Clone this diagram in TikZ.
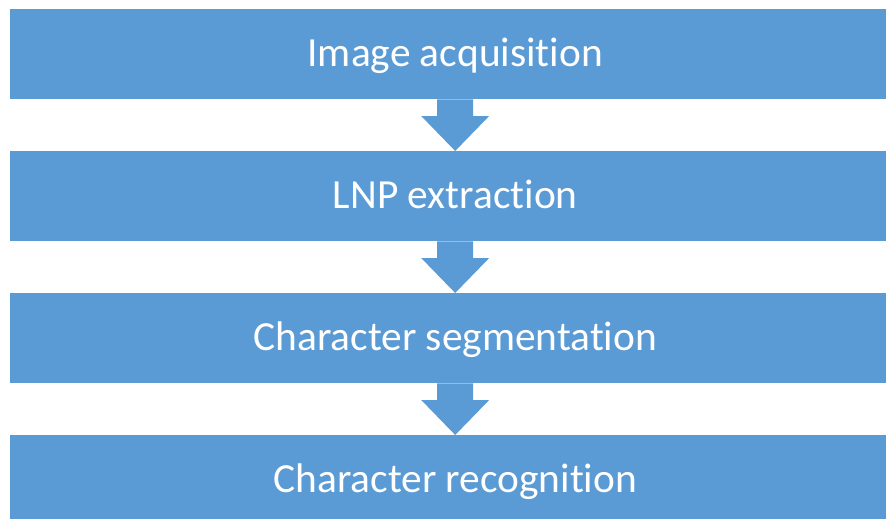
\documentclass[tikz,border=0pt]{standalone}
\usepackage{fontspec}
\setmainfont{Carlito}[Ligatures=NoCommon]
\usetikzlibrary{calc}
\definecolor{stepblue}{HTML}{5B9BD5}
\begin{document}
\begin{tikzpicture}[x=1pt,y=-1pt,
  stepbox/.style={fill=stepblue,draw=none,minimum width=890pt,minimum height=90pt,
    inner sep=0pt,text height=25pt,text depth=0pt,anchor=north west,text=white,
    font=\fontsize{41.4}{48}\selectfont}]
\useasboundingbox (0,0) rectangle (886,519);
\node[stepbox] (s1) at (10,9)   {Image acquisition};
\node[stepbox] (s2) at (10,151) {LNP extraction};
\node[stepbox] (s3) at (10,293) {Character segmentation};
\node[stepbox] (s4) at (10,435) {Character recognition};
% block arrows between consecutive steps
\foreach \a/\b in {s1/s2,s2/s3,s3/s4}{
  \path (\a.south) coordinate (top-\a)
        (\b.north) coordinate (tip-\a);
  \fill[stepblue] ($(top-\a)+(-18,0)$) -- ($(top-\a)+(18,0)$)
    -- ($(tip-\a)+(18,-35)$) -- ($(tip-\a)+(34,-35)$) -- (tip-\a)
    -- ($(tip-\a)+(-34,-35)$) -- ($(tip-\a)+(-18,-35)$) -- cycle;
}
\end{tikzpicture}
\end{document}
